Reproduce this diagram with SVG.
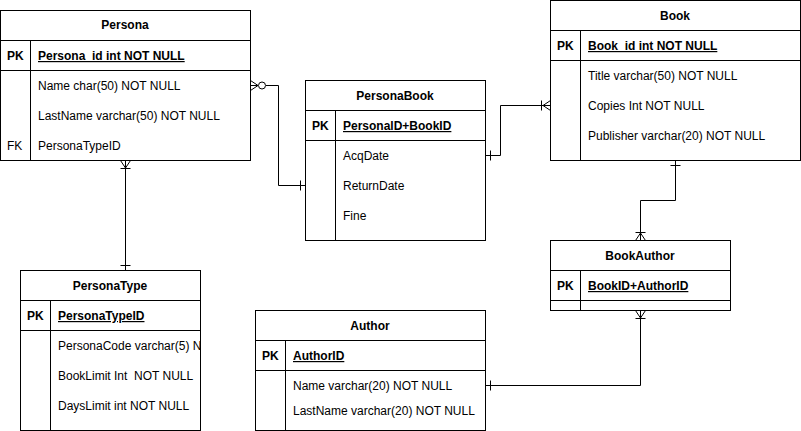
<svg xmlns="http://www.w3.org/2000/svg" width="801" height="431" viewBox="0 0 801 431">
<style>
.box{fill:#fff;stroke:#000;stroke-width:1}
.ln{fill:none;stroke:#000;stroke-width:1}
.t{font-family:"Liberation Sans",Arial,sans-serif;font-size:12px;fill:#000}
.h{font-weight:bold;text-anchor:middle}
.b{font-weight:bold}
.u{text-decoration:underline}
.c{stroke:#000;stroke-width:1;fill:none}
</style>
<defs>
<clipPath id="clipPT"><rect x="20" y="270" width="180" height="160"/></clipPath>
</defs>
<rect width="801" height="431" fill="#fff"/>

<g id="Persona">
<rect class="box" x="0.5" y="10.5" width="250" height="150"/>
<line class="ln" x1="0.5" y1="40.5" x2="250.5" y2="40.5"/>
<line class="ln" x1="0.5" y1="70.5" x2="250.5" y2="70.5"/>
<line class="ln" x1="30.5" y1="40.5" x2="30.5" y2="160.5"/>
<text class="t h" x="125" y="29">Persona</text>
<text class="t b" x="7" y="60">PK</text>
<text class="t b u" x="38" y="60">Persona_id int NOT NULL</text>
<text class="t" x="38" y="90">Name char(50) NOT NULL</text>
<text class="t" x="38" y="120">LastName varchar(50) NOT NULL</text>
<text class="t" x="7" y="150">FK</text>
<text class="t" x="38" y="150">PersonaTypeID</text>
</g>

<g id="PersonaBook">
<rect class="box" x="305.5" y="80.5" width="180" height="160"/>
<line class="ln" x1="305.5" y1="110.5" x2="485.5" y2="110.5"/>
<line class="ln" x1="305.5" y1="140.5" x2="485.5" y2="140.5"/>
<line class="ln" x1="335.5" y1="110.5" x2="335.5" y2="240.5"/>
<text class="t h" x="395" y="100">PersonaBook</text>
<text class="t b" x="312" y="130">PK</text>
<text class="t b u" x="343" y="130">PersonalD+BookID</text>
<text class="t" x="343" y="160">AcqDate</text>
<text class="t" x="343" y="190">ReturnDate</text>
<text class="t" x="343" y="220">Fine</text>
</g>

<g id="Book">
<rect class="box" x="550.5" y="0.5" width="250" height="160"/>
<line class="ln" x1="550.5" y1="30.5" x2="800.5" y2="30.5"/>
<line class="ln" x1="550.5" y1="60.5" x2="800.5" y2="60.5"/>
<line class="ln" x1="580.5" y1="30.5" x2="580.5" y2="160.5"/>
<text class="t h" x="675" y="20">Book</text>
<text class="t b" x="557" y="50">PK</text>
<text class="t b u" x="588" y="50">Book_id int NOT NULL</text>
<text class="t" x="588" y="80">Title varchar(50) NOT NULL</text>
<text class="t" x="588" y="110">Copies Int NOT NULL</text>
<text class="t" x="588" y="140">Publisher varchar(20) NOT NULL</text>
</g>

<g id="PersonaType">
<rect class="box" x="20.5" y="270.5" width="180" height="160"/>
<line class="ln" x1="20.5" y1="300.5" x2="200.5" y2="300.5"/>
<line class="ln" x1="20.5" y1="330.5" x2="200.5" y2="330.5"/>
<line class="ln" x1="50.5" y1="300.5" x2="50.5" y2="430.5"/>
<text class="t h" x="110" y="290">PersonaType</text>
<text class="t b" x="27" y="320">PK</text>
<text class="t b u" x="58" y="320">PersonaTypeID</text>
<g clip-path="url(#clipPT)">
<text class="t" x="58" y="350">PersonaCode varchar(5) NOT NULL</text>
</g>
<text class="t" x="58" y="380" xml:space="preserve">BookLimit Int  NOT NULL</text>
<text class="t" x="58" y="410">DaysLimit int NOT NULL</text>
</g>

<g id="Author">
<rect class="box" x="255.5" y="310.5" width="230" height="120"/>
<line class="ln" x1="255.5" y1="340.5" x2="485.5" y2="340.5"/>
<line class="ln" x1="255.5" y1="370.5" x2="485.5" y2="370.5"/>
<line class="ln" x1="285.5" y1="340.5" x2="285.5" y2="430.5"/>
<text class="t h" x="370" y="330">Author</text>
<text class="t b" x="262" y="360">PK</text>
<text class="t b u" x="293" y="360">AuthorID</text>
<text class="t" x="293" y="390">Name varchar(20) NOT NULL</text>
<text class="t" x="293" y="415">LastName varchar(20) NOT NULL</text>
</g>

<g id="BookAuthor">
<rect class="box" x="550.5" y="240.5" width="180" height="70"/>
<line class="ln" x1="550.5" y1="270.5" x2="730.5" y2="270.5"/>
<line class="ln" x1="550.5" y1="300.5" x2="730.5" y2="300.5"/>
<line class="ln" x1="580.5" y1="270.5" x2="580.5" y2="310.5"/>
<text class="t h" x="640" y="260">BookAuthor</text>
<text class="t b" x="557" y="290">PK</text>
<text class="t b u" x="588" y="290">BookID+AuthorID</text>
</g>

<g id="connectors">
<!-- Persona -> PersonaBook -->
<polyline class="c" points="266,85.5 278.5,85.5 278.5,185.5 305,185.5"/>
<path class="c" d="M250.5,80.5 L258,85.5 L250.5,90.5 M250.5,85.5 L258,85.5"/>
<circle class="c" cx="262" cy="85.5" r="3.5"/>
<line class="c" x1="300.5" y1="180.5" x2="300.5" y2="190.5"/>
<!-- PersonaBook -> Book -->
<polyline class="c" points="485.5,155.5 500.5,155.5 500.5,105.5 550,105.5"/>
<line class="c" x1="490.5" y1="150.5" x2="490.5" y2="160.5"/>
<path class="c" d="M550.5,100.5 L543,105.5 L550.5,110.5"/>
<line class="c" x1="541.5" y1="100.5" x2="541.5" y2="110.5"/>
<!-- Persona -> PersonaType -->
<line class="c" x1="125.5" y1="160.5" x2="125.5" y2="270"/>
<path class="c" d="M120.5,160.5 L125.5,168 L130.5,160.5"/>
<line class="c" x1="120.5" y1="168.5" x2="130.5" y2="168.5"/>
<line class="c" x1="120.5" y1="265.5" x2="130.5" y2="265.5"/>
<!-- Book -> BookAuthor -->
<polyline class="c" points="675.5,160.5 675.5,200.5 640.5,200.5 640.5,240"/>
<line class="c" x1="670.5" y1="165.5" x2="680.5" y2="165.5"/>
<path class="c" d="M635.5,240.5 L640.5,233 L645.5,240.5"/>
<line class="c" x1="635.5" y1="232.5" x2="645.5" y2="232.5"/>
<!-- Author -> BookAuthor -->
<polyline class="c" points="485.5,385.5 640.5,385.5 640.5,310.5"/>
<line class="c" x1="490.5" y1="380.5" x2="490.5" y2="390.5"/>
<path class="c" d="M635.5,310.5 L640.5,318 L645.5,310.5"/>
<line class="c" x1="635.5" y1="318.5" x2="645.5" y2="318.5"/>
</g>
</svg>
